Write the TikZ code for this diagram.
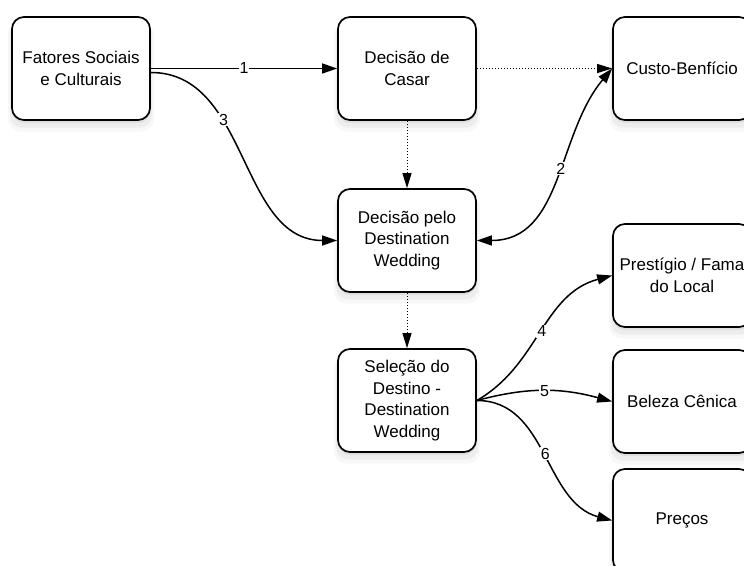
\documentclass[tikz,border=0pt]{standalone}
\usepackage{fontspec}
\setmainfont{Liberation Sans}
\usepackage{tikz}
\usetikzlibrary{arrows.meta,shadows}

\begin{document}
\begin{tikzpicture}[x=1pt,y=1pt,
  caixa/.style={draw,line width=1.7pt,rounded corners=12pt,fill=white,
    minimum width=138pt,minimum height=103pt,inner sep=0pt,align=center,
    font=\fontsize{17}{21.5}\selectfont,
    drop shadow={shadow xshift=0pt,shadow yshift=-8pt,opacity=.06,shadow scale=1.06},
    drop shadow={shadow xshift=0pt,shadow yshift=-6pt,opacity=.09,shadow scale=1.03},
    drop shadow={shadow xshift=0pt,shadow yshift=-3pt,opacity=.12}},
  seta/.style={line width=1.5pt,-{Triangle[length=15pt,width=10pt]}},
  pontilhado/.style={line width=1pt,dotted,-{Triangle[length=15pt,width=9pt]}},
  rotulo/.style={fill=white,inner sep=1pt,font=\fontsize{16}{19}\selectfont}]
  \useasboundingbox (0,0) rectangle (744,565);

  % The boxes:
  \foreach \nome/\x/\y/\texto in {
      fatores/81/496.5/{Fatores Sociais\\e Culturais},
      casar/407/496.5/{Decisão de\\Casar},
      custo/682/496.5/{Custo-Benfício},
      destwed/407/324.5/{Decisão pelo\\Destination\\Wedding},
      selecao/407/164.5/{Seleção do\\Destino -\\Destination\\Wedding},
      prestigio/682/289.5/{Prestígio / Fama\\do Local},
      beleza/682/163.5/{Beleza Cênica},
      precos/682/44.5/{Preços}}
    \node[caixa] (\nome) at (\x,\y) {\texto};

  % The dotted links:
  \draw[pontilhado] (casar.east) -- (custo.west);
  \draw[pontilhado] (casar.south) -- (destwed.north);
  \draw[pontilhado] (destwed.south) -- (selecao.north);

  % The numbered links:
  \draw[seta] (fatores.east) -- node[rotulo]{1} (casar.west);
  \draw[seta,{Triangle[length=15pt,width=10pt]}-{Triangle[length=15pt,width=10pt]}]
    (destwed.east) to[out=0,in=230] node[rotulo,pos=.55]{2} (custo.west);
  \draw[seta] ([yshift=-4pt]fatores.east) to[out=0,in=180] node[rotulo,pos=.35]{3} (destwed.west);
  \foreach \alvo/\num/\saida/\chegada/\p in {prestigio/4/30/195/.5, beleza/5/15/165/.5, precos/6/0/165/.5}
    \draw[seta] (selecao.east) to[out=\saida,in=\chegada] node[rotulo,pos=\p]{\num} (\alvo.west);
\end{tikzpicture}
\end{document}
